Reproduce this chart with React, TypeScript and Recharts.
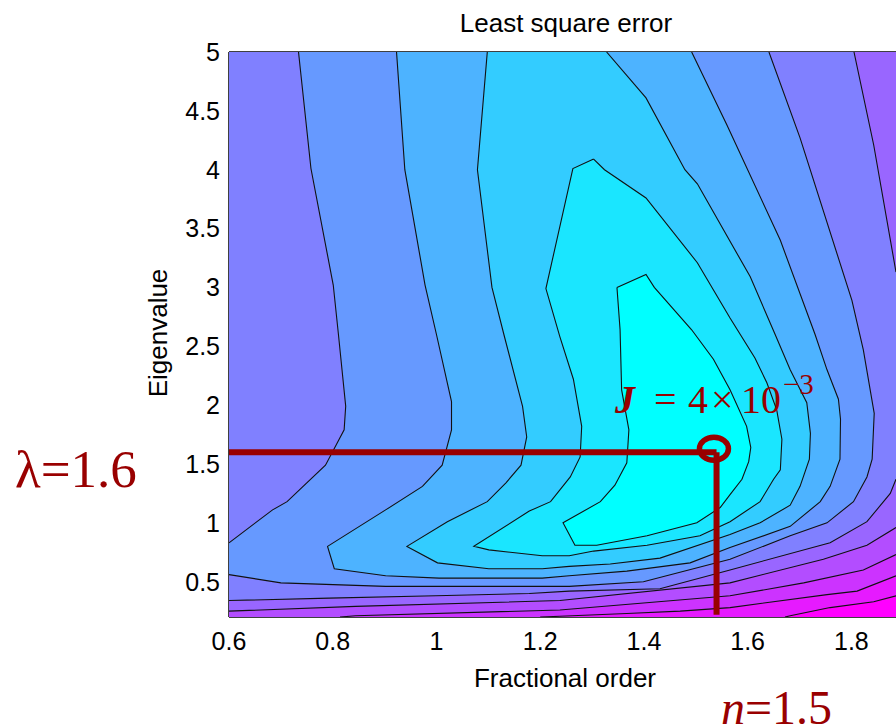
import React from 'react';
import { ScatterChart, Scatter, XAxis, YAxis, ReferenceLine, ReferenceDot } from 'recharts';

type Pt = [number, number];

// visible extent of the plot (right side of the original figure is cut off)
const X_MIN = 0.6;
const X_MAX = 1.886;
const Y_MIN = 0.2;
const Y_MAX = 5;

const xTicks = [0.6, 0.8, 1, 1.2, 1.4, 1.6, 1.8];
const yTicks = [0.5, 1, 1.5, 2, 2.5, 3, 3.5, 4, 4.5, 5];

// "cool" colormap bands, lowest error (cyan) to highest (magenta)
const bandColors = ['#00ffff', '#1ae6ff', '#33ccff', '#4db3ff', '#6699ff', '#8080ff', '#9966ff', '#b34dff', '#cc33ff', '#e61aff', '#ff00ff'];

// contour lines (fractional order, eigenvalue)
const level0: Pt[] = [
  [1.348, 3.0], [1.404, 3.11], [1.42, 3.0], [1.492, 2.64], [1.534, 2.39], [1.566, 2.13], [1.598, 1.82],
  [1.606, 1.64], [1.602, 1.52], [1.589, 1.37], [1.566, 1.24], [1.547, 1.13], [1.502, 1.0], [1.406, 0.89],
  [1.309, 0.81], [1.267, 0.81], [1.244, 1.0], [1.316, 1.18], [1.344, 1.32], [1.367, 1.51], [1.371, 1.79],
  [1.357, 2.13], [1.354, 2.64], [1.348, 3.0],
];
const level1: Pt[] = [
  [1.303, 4.09], [1.324, 4.0], [1.404, 3.76], [1.503, 3.21], [1.566, 2.74], [1.614, 2.4], [1.637, 2.19],
  [1.656, 1.96], [1.666, 1.71], [1.663, 1.45], [1.65, 1.37], [1.624, 1.18], [1.566, 1.01], [1.508, 0.89],
  [1.406, 0.81], [1.303, 0.76], [1.256, 0.72], [1.204, 0.72], [1.101, 0.77], [1.072, 0.8], [1.179, 1.1],
  [1.22, 1.18], [1.238, 1.28], [1.258, 1.39], [1.277, 1.56], [1.28, 1.82], [1.264, 2.22], [1.238, 2.58],
  [1.211, 2.99], [1.263, 4.01], [1.303, 4.09],
];
const level2: Pt[] = [
  [1.098, 5], [1.079, 4.0], [1.107, 3.0], [1.13, 2.6], [1.166, 1.99], [1.174, 1.73], [1.163, 1.49],
  [1.134, 1.34], [1.098, 1.18], [1.021, 1.01], [0.943, 0.8], [1.002, 0.66], [1.101, 0.61], [1.204, 0.61],
  [1.256, 0.63], [1.335, 0.65], [1.431, 0.7], [1.566, 0.9], [1.624, 1.0], [1.682, 1.15], [1.701, 1.31],
  [1.719, 1.54], [1.721, 1.76], [1.714, 2.02], [1.682, 2.3], [1.653, 2.6], [1.605, 3.09], [1.503, 3.88],
  [1.479, 4.0], [1.404, 4.61], [1.328, 5],
];
const level3: Pt[] = [
  [0.923, 5], [0.939, 4.0], [0.978, 3.02], [1.0, 2.6], [1.029, 2.03], [1.029, 1.79], [1.011, 1.49],
  [0.973, 1.31], [0.902, 1.11], [0.79, 0.8], [0.803, 0.61], [0.902, 0.55], [1.005, 0.53], [1.204, 0.53],
  [1.256, 0.55], [1.367, 0.59], [1.489, 0.66], [1.566, 0.79], [1.682, 0.97], [1.74, 1.18], [1.759, 1.31],
  [1.778, 1.54], [1.779, 1.88], [1.775, 2.05], [1.753, 2.3], [1.73, 2.6], [1.663, 3.4], [1.56, 4.38],
  [1.492, 5],
];
const level4Left: Pt[] = [
  [0.734, 5], [0.758, 4.01], [0.801, 3.02], [0.811, 2.6], [0.825, 1.99], [0.822, 1.79], [0.786, 1.49],
  [0.712, 1.18], [0.684, 1.11], [0.6, 0.83],
];
const level4Right: Pt[] = [
  [0.6, 0.56], [0.7, 0.49], [0.902, 0.46], [1.256, 0.46], [1.399, 0.5], [1.566, 0.69], [1.682, 0.89],
  [1.753, 1.0], [1.804, 1.18], [1.83, 1.39], [1.84, 1.54], [1.844, 1.93], [1.823, 2.47], [1.801, 2.89],
  [1.701, 4.27], [1.641, 5],
];
const level5Top: Pt[] = [[1.805, 5], [1.843, 4.21], [1.886, 3.13]];
const level5Bottom: Pt[] = [
  [1.886, 1.37], [1.875, 1.25], [1.83, 1.01], [1.759, 0.83], [1.566, 0.6], [1.431, 0.44], [1.256, 0.42],
  [1.179, 0.4], [0.999, 0.38], [0.793, 0.36], [0.6, 0.34],
];
const level6: Pt[] = [[1.886, 0.96], [1.83, 0.81], [1.746, 0.69], [1.566, 0.49], [1.238, 0.34], [0.844, 0.29], [0.6, 0.25]];
const level7: Pt[] = [[1.886, 0.73], [1.823, 0.6], [1.708, 0.49], [1.566, 0.38], [1.238, 0.26], [0.844, 0.21], [0.814, 0.2]];
const level8: Pt[] = [[1.886, 0.55], [1.811, 0.42], [1.753, 0.39], [1.566, 0.28], [1.47, 0.25], [1.367, 0.23], [1.238, 0.206], [1.2, 0.2]];
const level9: Pt[] = [[1.886, 0.38], [1.843, 0.33], [1.759, 0.28], [1.682, 0.21], [1.672, 0.2]];

// marked optimum
const bestX = 1.54;
const bestY = 1.6;
const circleX = 1.535;
const circleY = 1.63;
const guideBottom = 0.22;

const TL: Pt = [X_MIN, Y_MAX];
const TR: Pt = [X_MAX, Y_MAX];
const BR: Pt = [X_MAX, Y_MIN];
const BL: Pt = [X_MIN, Y_MIN];

// filled regions, painted from the highest band down to the minimum
const fills: { color: string; pts: Pt[] }[] = [
  { color: bandColors[10], pts: [TL, TR, BR, BL] },
  { color: bandColors[9], pts: [TL, TR, ...level9, BL] },
  { color: bandColors[8], pts: [TL, TR, ...level8, BL] },
  { color: bandColors[7], pts: [TL, TR, ...level7, BL] },
  { color: bandColors[6], pts: [TL, TR, ...level6] },
  { color: bandColors[5], pts: [TL, ...level5Top, ...level5Bottom] },
  { color: bandColors[4], pts: [...level4Left, ...level4Right] },
  { color: bandColors[3], pts: level3 },
  { color: bandColors[2], pts: level2 },
  { color: bandColors[1], pts: level1 },
  { color: bandColors[0], pts: level0 },
];

const contourLines = [level0, level1, level2, level3, level4Left, level4Right, level5Top, level5Bottom, level6, level7, level8, level9];

const guideH: Pt[] = [[X_MIN, bestY], [bestX, bestY]];
const guideV: Pt[] = [[bestX, bestY], [bestX, guideBottom]];

const toRows = (pts: Pt[]) => pts.map(([x, y]) => ({ x, y }));
const noPoint = () => <g />;

const RED = '#990000';
const SANS = '"Liberation Sans", Arial, Helvetica, sans-serif';
const SERIF = '"Liberation Serif", "Times New Roman", serif';

const tickStyle = { fill: '#000', fontSize: 25, fontFamily: SANS };

export default function App() {
  return (
    <div style={{ position: 'relative', width: 896, height: 728, overflow: 'hidden', background: '#fff' }}>
      <style>{'body{margin:0}'}</style>
      <ScatterChart width={896} height={728} margin={{ top: 52, right: 0, bottom: 71, left: 169 }}>
        <XAxis
          type="number"
          dataKey="x"
          domain={[X_MIN, X_MAX]}
          allowDataOverflow
          ticks={xTicks}
          interval={0}
          height={40}
          tickLine={false}
          tickSize={0}
          tickMargin={15}
          tick={tickStyle}
          axisLine={{ stroke: '#000', strokeWidth: 1.5 }}
        />
        <YAxis
          type="number"
          dataKey="y"
          domain={[Y_MIN, Y_MAX]}
          allowDataOverflow
          ticks={yTicks}
          interval={0}
          width={60}
          tickLine={false}
          tickSize={0}
          tickMargin={9}
          tick={tickStyle}
          axisLine={{ stroke: '#000', strokeWidth: 1.5 }}
        />
        {fills.map((f, i) => (
          <Scatter
            key={`fill-${i}`}
            data={toRows(f.pts)}
            fill={f.color}
            line={{ fill: f.color, stroke: 'none' }}
            lineType="joint"
            shape={noPoint}
            isAnimationActive={false}
          />
        ))}
        {contourLines.map((c, i) => (
          <Scatter
            key={`line-${i}`}
            data={toRows(c)}
            fill="none"
            line={{ stroke: '#111', strokeWidth: 1.1 }}
            lineType="joint"
            shape={noPoint}
            isAnimationActive={false}
          />
        ))}
        <Scatter data={toRows(guideH)} fill="none" line={{ stroke: RED, strokeWidth: 6 }} lineType="joint" shape={noPoint} isAnimationActive={false} />
        <Scatter data={toRows(guideV)} fill="none" line={{ stroke: RED, strokeWidth: 6 }} lineType="joint" shape={noPoint} isAnimationActive={false} />
        <ReferenceDot
          x={circleX}
          y={circleY}
          ifOverflow="visible"
          shape={(p: any) => <ellipse cx={p.cx} cy={p.cy} rx={14.5} ry={11.5} fill="none" stroke={RED} strokeWidth={5.5} />}
        />
        <ReferenceLine y={Y_MAX} ifOverflow="visible" stroke="#000" strokeWidth={1.5} />
      </ScatterChart>

      <svg width={896} height={728} style={{ position: 'absolute', left: 0, top: 0, pointerEvents: 'none' }}>
        <text x={566} y={32} textAnchor="middle" fontFamily={SANS} fontSize={26} fill="#000">Least square error</text>
        <text x={565} y={687} textAnchor="middle" fontFamily={SANS} fontSize={26} fill="#000">Fractional order</text>
        <text x={167} y={333} textAnchor="middle" fontFamily={SANS} fontSize={26} fill="#000" transform="rotate(-90 167 333)">Eigenvalue</text>

        <text x={15} y={487} fontFamily={SERIF} fontSize={53} fill={RED}>λ=1.6</text>
        <text x={721} y={724} fontFamily={SERIF} fontSize={48} fill={RED}>
          <tspan fontStyle="italic">n</tspan>=1.5
        </text>
        <text y={413} fontFamily={SERIF} fontSize={40} fill={RED}>
          <tspan x={615} fontWeight="bold" fontStyle="italic">J</tspan>
          <tspan x={654}>=</tspan>
          <tspan x={688}>4</tspan>
          <tspan x={711}>×</tspan>
          <tspan x={741}>10</tspan>
          <tspan x={783} y={394} fontSize={29}>−3</tspan>
        </text>
      </svg>
    </div>
  );
}
